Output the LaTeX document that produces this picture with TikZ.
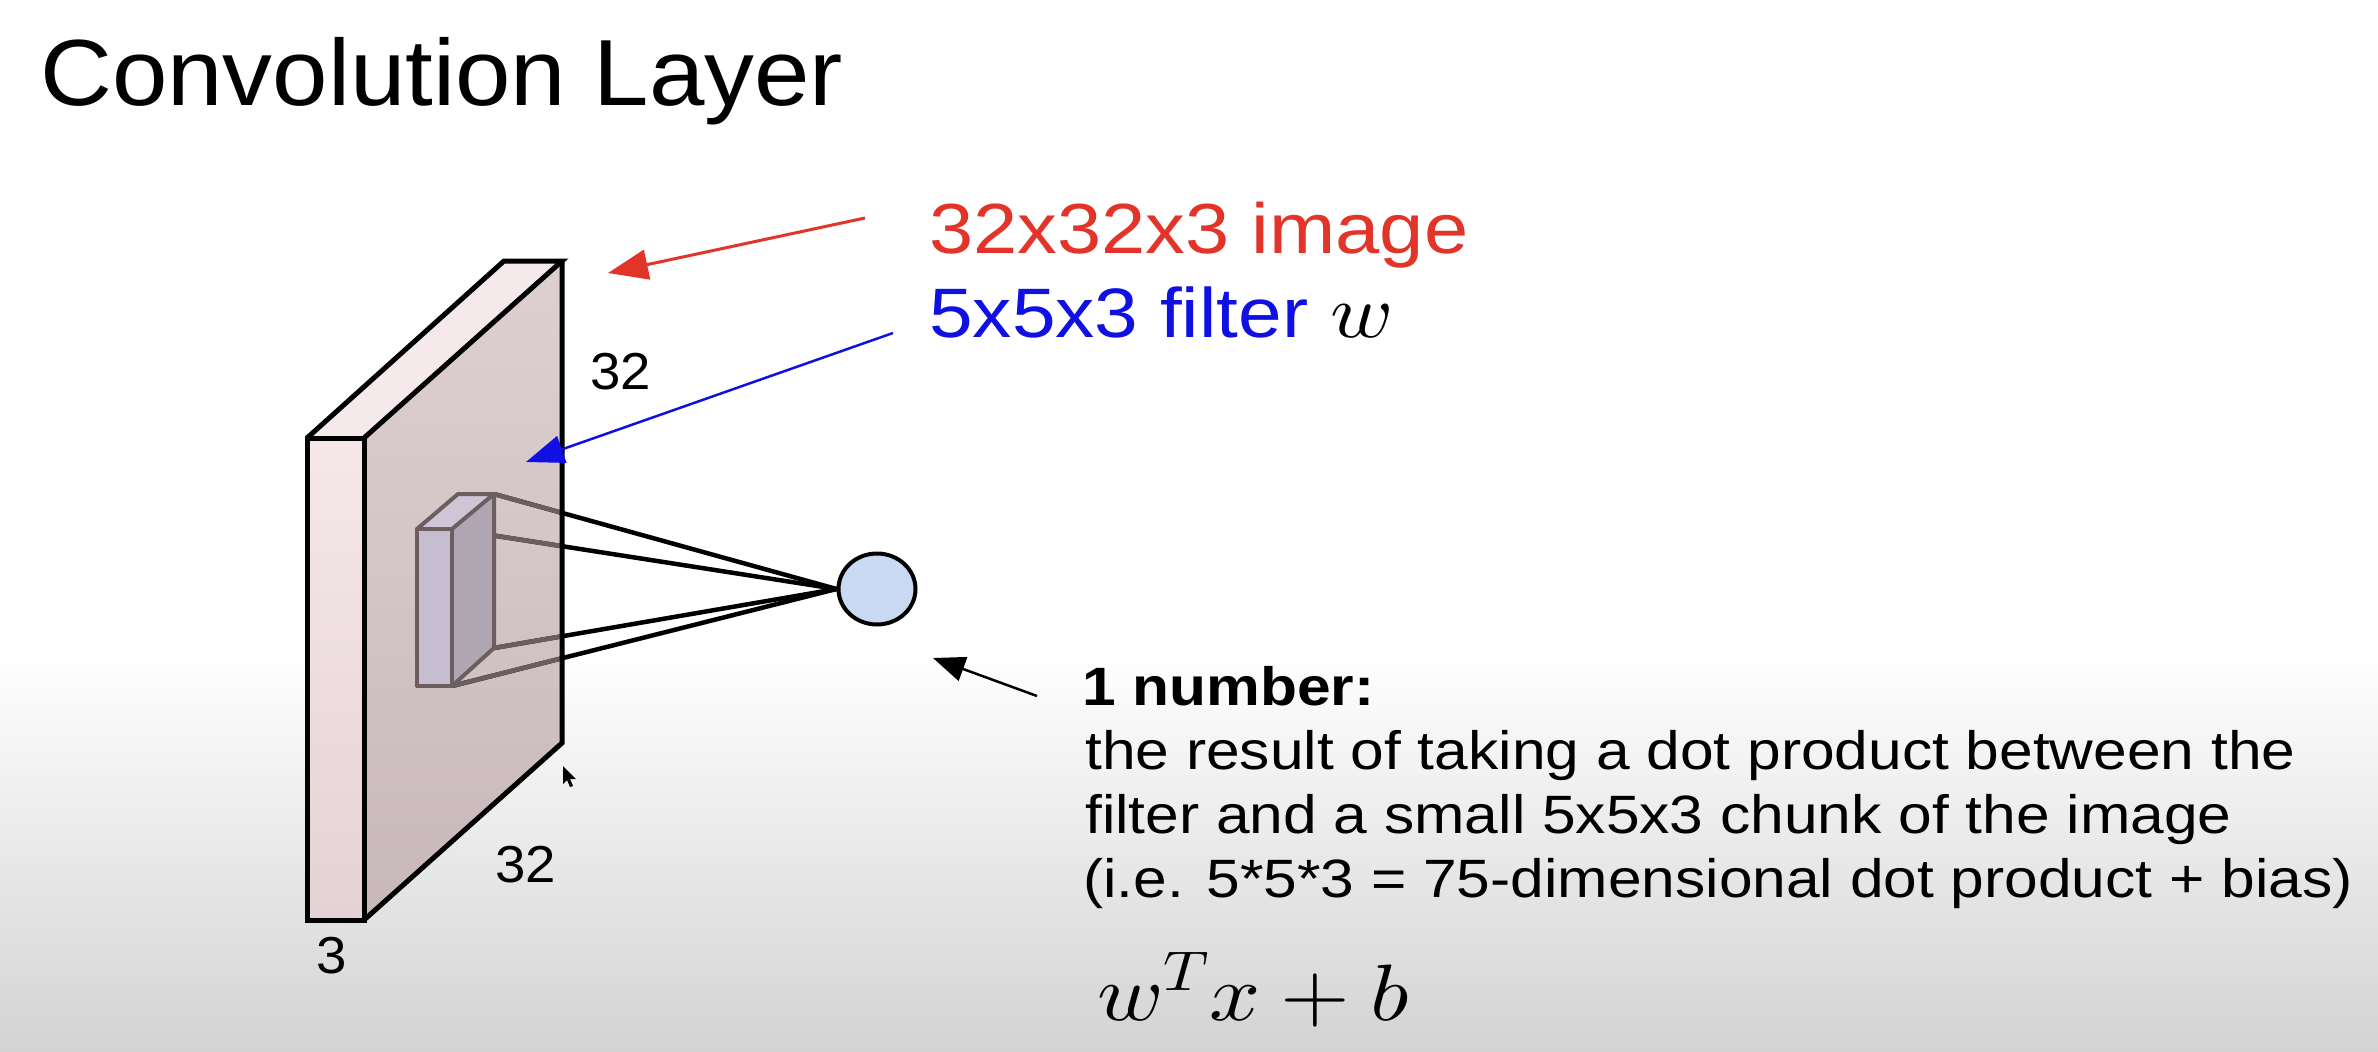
\documentclass[tikz,border=0pt]{standalone}
\usepackage[no-math]{fontspec}
\setmainfont{Liberation Sans}
\usepackage{graphicx}
\DeclareFontShape{OML}{cmm}{m}{it}{<->cmmi10}{}
\DeclareFontShape{OT1}{cmr}{m}{n}{<->cmr10}{}
\DeclareFontShape{OMS}{cmsy}{m}{n}{<->cmsy10}{}
\DeclareFontShape{OMX}{cmex}{m}{n}{<->cmex10}{}
\usetikzlibrary{shapes.geometric,arrows.meta}
\definecolor{imgred}{RGB}{226,52,40}
\definecolor{filtblue}{RGB}{16,16,226}
\definecolor{edgegrey}{RGB}{108,94,96}
\definecolor{bgbot}{RGB}{211,211,211}
\definecolor{thicktop}{RGB}{246,231,233}
\definecolor{thickbot}{RGB}{228,211,212}
\definecolor{topface}{RGB}{246,233,235}
\definecolor{maintop}{RGB}{222,208,209}
\definecolor{mainbot}{RGB}{200,184,185}
\definecolor{boxfront}{RGB}{198,190,208}
\definecolor{boxside}{RGB}{176,166,178}
\definecolor{boxtop}{RGB}{206,198,212}
\definecolor{ellfill}{RGB}{201,217,242}
\tikzset{
  txt/.style={inner sep=0pt, anchor=base west},
  slabedge/.style={line width=5pt, black, line join=miter},
  boxedge/.style={line width=4pt, edgegrey, line join=round},
  fanline/.style={line width=4.5pt},
}
\newcommand{\wide}[2]{\scalebox{#1}[1]{#2}}
\begin{document}
\begin{tikzpicture}[x=1pt,y=-1pt]
\useasboundingbox (0,0) rectangle (2378,1052);
\fill[white] (0,0) rectangle (2378,1052);
\shade[top color=white,bottom color=bgbot] (0,650) rectangle (2378,1052);

% title
\node[txt, font=\fontsize{94}{94}\selectfont] (title) at (40,105) {\wide{1.06}{Convolution Layer}};

% slab corners
\coordinate (sA) at (307,438);
\coordinate (sB) at (364,438);
\coordinate (sC) at (364,920);
\coordinate (sD) at (307,920);
\coordinate (sE) at (504,261);
\coordinate (sF) at (562,261);
\coordinate (sG) at (562,743);

\shade[top color=thicktop,bottom color=thickbot] (sA) -- (sB) -- (sC) -- (sD) -- cycle;
\fill[topface] (sA) -- (sE) -- (sF) -- (sB) -- cycle;
\shade[top color=maintop,bottom color=mainbot] (sB) -- (sF) -- (sG) -- (sC) -- cycle;

% filter box corners
\coordinate (fA) at (417,529);
\coordinate (fB) at (452,529);
\coordinate (fC) at (452,686);
\coordinate (fD) at (417,686);
\coordinate (fE) at (458,494);
\coordinate (fF) at (494,494);
\coordinate (fG) at (494,648);

% output neuron
\node[ellipse, draw, line width=4pt, fill=ellfill, minimum width=77pt, minimum height=71pt, inner sep=0pt] (ell) at (877,589) {};

% fan lines
\draw[fanline] (fF) -- (ell.west);
\draw[fanline] (fB) -- (ell.west);
\draw[fanline] (fG) -- (ell.west);
\draw[fanline] (fC) -- (ell.west);
\begin{scope}
  \clip (sB) -- (sF) -- (sG) -- (sC) -- cycle;
  \draw[fanline, edgegrey] (fF) -- (ell.west);
  \draw[fanline, edgegrey] (fB) -- (ell.west);
  \draw[fanline, edgegrey] (fG) -- (ell.west);
  \draw[fanline, edgegrey] (fC) -- (ell.west);
\end{scope}

% filter box
\fill[boxfront] (fA) -- (fB) -- (fC) -- (fD) -- cycle;
\fill[boxside] (fB) -- (fF) -- (fG) -- (fC) -- cycle;
\fill[boxtop] (fA) -- (fE) -- (fF) -- (fB) -- cycle;
\draw[boxedge] (fA) -- (fB) -- (fC) -- (fD) -- cycle;
\draw[boxedge] (fA) -- (fE) -- (fF) -- (fB);
\draw[boxedge] (fF) -- (fG) -- (fC);

% slab outline
\draw[slabedge] (sA) -- (sB) -- (sC) -- (sD) -- cycle;
\draw[slabedge] (sA) -- (sE) -- (sF) -- (sB);
\draw[slabedge] (sF) -- (sG) -- (sC);

% dimension labels
\node[txt, font=\fontsize{52}{52}\selectfont] (d32r) at (590,389) {\wide{1.05}{32}};
\node[txt, font=\fontsize{52}{52}\selectfont] (d32b) at (495,882) {\wide{1.05}{32}};
\node[txt, font=\fontsize{52}{52}\selectfont] (d3) at (316,973) {\wide{1.05}{3}};

% mouse cursor
\fill[black] (563,766) -- (563,784) -- (567,780) -- (570,787) -- (573,786) -- (570,779) -- (576,779) -- cycle;

% labels on the right
\node[txt, font=\fontsize{71}{71}\selectfont, text=imgred] (limg) at (929,253) {\wide{1.12}{32x32x3 image}};
\node[txt, font=\fontsize{70}{70}\selectfont, text=filtblue] (lfil) at (929,337) {\wide{1.12}{5x5x3 filter {\color{black}\fontsize{76}{76}\selectfont$w$}}};

% arrows
\coordinate (redS) at (865,218);
\coordinate (redT) at (608,273);
\draw[imgred, line width=3pt, -{Triangle[length=40pt,width=30pt]}] (redS) -- (redT);
\coordinate (bluS) at (893,333);
\coordinate (bluT) at (526,462);
\draw[filtblue, line width=2.5pt, -{Triangle[length=38pt,width=28pt]}] (bluS) -- (bluT);
\coordinate (blkS) at (1037,696);
\coordinate (blkT) at (933,658);
\draw[black, line width=2.5pt, -{Triangle[length=32pt,width=25pt]}] (blkS) -- (blkT);

% explanation text
\node[txt, font=\fontsize{54}{54}\selectfont\bfseries] (l1) at (1082,705) {\wide{1.12}{1 number:}};
\node[txt, font=\fontsize{54}{54}\selectfont] (l2) at (1085,769) {\wide{1.12}{the result of taking a dot product between the}};
\node[txt, font=\fontsize{54}{54}\selectfont] (l3) at (1085,833) {\wide{1.12}{filter and a small 5x5x3 chunk of the image}};
\node[txt, font=\fontsize{54}{54}\selectfont] (l4) at (1083,897) {\wide{1.12}{(i.e. 5*5*3 = 75-dimensional dot product + bias)}};
\node[txt, font=\fontsize{80}{80}\selectfont] (eq) at (1097,1020) {\wide{1.12}{$w^T x + b$}};
\end{tikzpicture}
\end{document}
